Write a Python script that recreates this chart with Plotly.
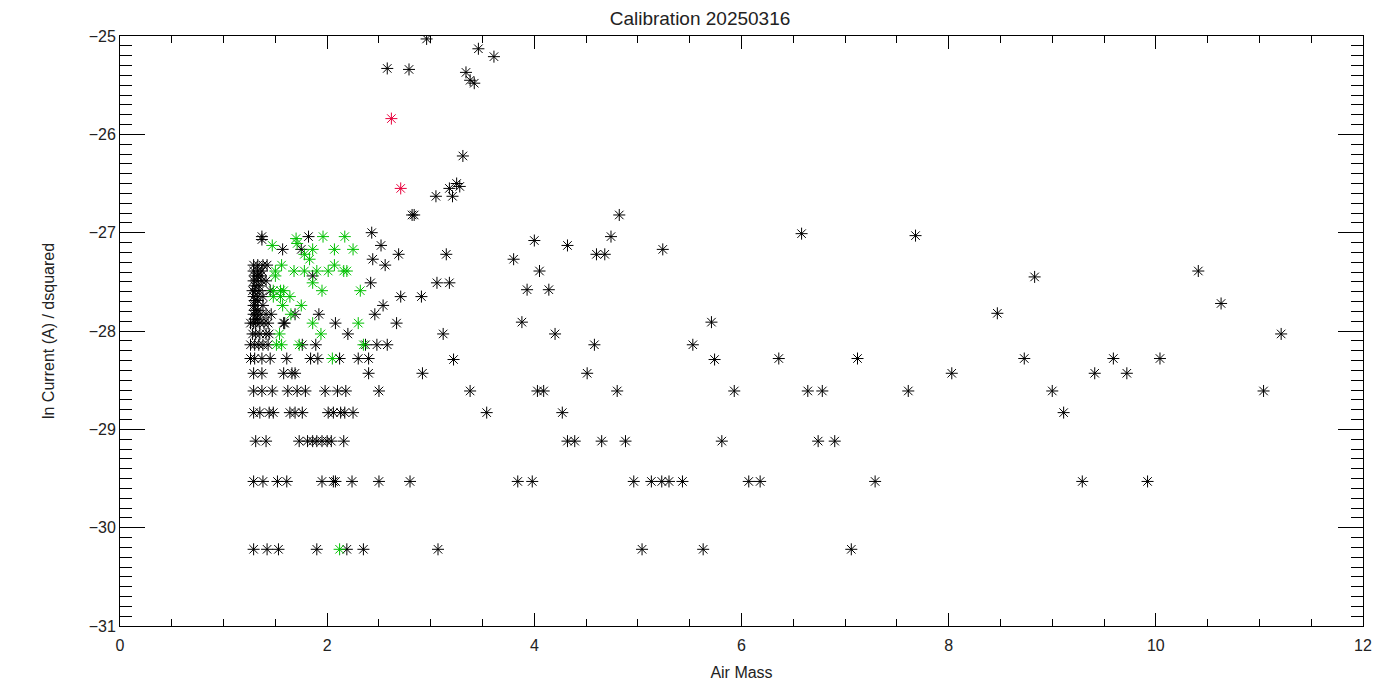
import plotly.graph_objects as go

# ---- data ----
# dense column / cluster of black points at low air mass
black_x = [
    1.29, 1.33, 1.38, 1.42,
    1.29, 1.33, 1.37,
    1.30, 1.33, 1.36,
    1.29, 1.32, 1.37, 1.41,
    1.30, 1.34,
    1.28, 1.31, 1.35, 1.45,
    1.29, 1.33, 1.38,
    1.30, 1.33,
    1.29, 1.31, 1.38,
    1.30, 1.33,
    1.29, 1.32, 1.36, 1.41,
    1.30, 1.33,
    1.26, 1.29, 1.31, 1.35, 1.39, 1.43, 1.59,
    1.28, 1.31, 1.35, 1.41, 1.44,
    1.26, 1.30, 1.34, 1.38, 1.43, 1.76, 1.89, 2.37, 2.48, 2.58,
    1.26, 1.30, 1.37, 1.45, 1.61, 1.84, 1.91, 2.12, 2.30, 2.40,
    1.29, 1.37, 1.58, 1.66, 1.69, 2.40, 2.92,
    1.29, 1.37, 1.47, 1.62, 1.71, 1.79, 1.98, 2.10, 2.18, 2.50,
    1.29, 1.35, 1.44, 1.48, 1.64, 1.69, 1.76, 2.01, 2.06, 2.13, 2.17, 2.25,
    1.31, 1.41, 1.73, 1.81, 1.86, 1.90, 1.95, 2.00, 2.04, 2.16,
    1.29, 1.38, 1.52, 1.61, 1.95, 2.06, 2.08, 2.24, 2.50, 2.80,
    1.29, 1.42, 1.53, 1.90, 2.19, 2.35, 3.07,
    # upper part of the cluster
    1.37, 1.37, 1.82, 2.43, 1.57, 1.75, 2.52, 2.69, 2.44, 2.56, 1.86, 2.42,
    2.71, 2.91, 2.54, 2.46, 2.67, 1.92, 1.69, 1.46, 1.58, 2.08, 2.20,
    # high points
    2.96, 3.46, 3.61, 2.58, 2.79, 3.34, 3.38, 3.42, 3.31,
    3.25, 3.28, 3.18, 3.21, 3.05, 2.82, 2.84,
    # mid / right part
    4.82, 4.74, 4.00, 4.32, 5.24, 3.15, 4.60, 4.68, 3.80, 4.05, 3.06, 3.18,
    3.93, 4.14, 3.88, 3.12, 4.20, 5.71, 4.58, 5.53, 3.22, 5.74, 4.51,
    3.38, 4.03, 4.09, 4.80, 3.54, 4.27, 4.32, 4.39, 4.65, 4.88,
    3.84, 3.98, 4.96, 5.13, 5.23, 5.30, 5.43, 5.04, 5.63,
    5.81, 5.93, 6.36, 6.58, 6.64, 6.78, 6.74, 6.90, 6.07, 6.18, 7.06, 7.12,
    7.29, 7.61, 7.68, 8.03, 8.47, 8.73, 8.83, 9.00, 9.11, 9.29, 9.41, 9.59,
    9.72, 9.92, 10.04, 10.41, 10.63, 11.04, 11.21,
]
black_y = [
    -27.33, -27.33, -27.33, -27.33,
    -27.39, -27.39, -27.39,
    -27.44, -27.44, -27.44,
    -27.49, -27.49, -27.49, -27.49,
    -27.54, -27.54,
    -27.59, -27.59, -27.59, -27.59,
    -27.65, -27.65, -27.65,
    -27.69, -27.69,
    -27.74, -27.74, -27.74,
    -27.79, -27.79,
    -27.83, -27.83, -27.83, -27.83,
    -27.88, -27.88,
    -27.92, -27.92, -27.92, -27.92, -27.92, -27.92, -27.92,
    -28.03, -28.03, -28.03, -28.03, -28.03,
    -28.14, -28.14, -28.14, -28.14, -28.14, -28.14, -28.14, -28.14, -28.14, -28.14,
    -28.28, -28.28, -28.28, -28.28, -28.28, -28.28, -28.28, -28.28, -28.28, -28.28,
    -28.43, -28.43, -28.43, -28.43, -28.43, -28.43, -28.43,
    -28.61, -28.61, -28.61, -28.61, -28.61, -28.61, -28.61, -28.61, -28.61, -28.61,
    -28.83, -28.83, -28.83, -28.83, -28.83, -28.83, -28.83, -28.83, -28.83, -28.83, -28.83, -28.83,
    -29.12, -29.12, -29.12, -29.12, -29.12, -29.12, -29.12, -29.12, -29.12, -29.12,
    -29.53, -29.53, -29.53, -29.53, -29.53, -29.53, -29.53, -29.53, -29.53, -29.53,
    -30.22, -30.22, -30.22, -30.22, -30.22, -30.22, -30.22,
    -27.04, -27.07, -27.04, -27.00, -27.17, -27.17, -27.13, -27.22, -27.27, -27.33, -27.44, -27.51,
    -27.65, -27.65, -27.74, -27.83, -27.92, -27.83, -27.83, -27.83, -27.92, -27.92, -28.03,
    -25.03, -25.13, -25.21, -25.33, -25.34, -25.37, -25.45, -25.48, -26.22,
    -26.50, -26.53, -26.55, -26.63, -26.63, -26.82, -26.82,
    -26.82, -27.04, -27.08, -27.13, -27.17, -27.22, -27.22, -27.22, -27.27, -27.39, -27.51, -27.51,
    -27.58, -27.58, -27.91, -28.03, -28.03, -27.91, -28.14, -28.14, -28.29, -28.29, -28.43,
    -28.61, -28.61, -28.61, -28.61, -28.83, -28.83, -29.12, -29.12, -29.12, -29.12,
    -29.53, -29.53, -29.53, -29.53, -29.53, -29.53, -29.53, -30.22, -30.22,
    -29.12, -28.61, -28.28, -27.01, -28.61, -28.61, -29.12, -29.12, -29.53, -29.53, -30.22, -28.28,
    -29.53, -28.61, -27.03, -28.43, -27.82, -28.28, -27.45, -28.61, -28.83, -29.53, -28.43, -28.28,
    -28.43, -29.53, -28.28, -27.39, -27.72, -28.61, -28.03,
]

green_x = [
    1.70, 1.71, 1.96, 2.17, 1.47, 1.86, 2.07, 2.25, 1.78, 1.83, 1.56, 2.07,
    1.50, 1.68, 1.78, 1.90, 2.01, 2.16, 2.19, 1.50, 1.86, 1.95, 2.32, 1.48,
    1.55, 1.58, 1.64, 1.48, 1.55, 1.57, 1.75, 1.65, 1.86, 2.30, 1.54, 1.94,
    1.51, 1.56, 1.73, 2.35, 2.05, 2.12,
]
green_y = [
    -27.06, -27.11, -27.04, -27.04, -27.13, -27.17, -27.17, -27.17, -27.22, -27.27, -27.33, -27.33,
    -27.39, -27.39, -27.39, -27.39, -27.39, -27.39, -27.39, -27.44, -27.51, -27.59, -27.59, -27.59,
    -27.59, -27.59, -27.65, -27.65, -27.65, -27.74, -27.74, -27.83, -27.92, -27.92, -28.03, -28.03,
    -28.14, -28.14, -28.14, -28.14, -28.28, -30.22,
]

red_x = [2.62, 2.71]
red_y = [-25.84, -26.55]

FONT = "Liberation Sans"


def series(x, y, color):
    return go.Scatter(
        x=x, y=y, mode="markers", showlegend=False, hoverinfo="x+y",
        marker=dict(symbol="asterisk-open", size=10, color=color,
                    line=dict(width=1, color=color)),
    )


fig = go.Figure()
fig.add_trace(series(black_x, black_y, "black"))
fig.add_trace(series(green_x, green_y, "#00c000"))
fig.add_trace(series(red_x, red_y, "#e8003c"))

# page body adds an 8px margin, so the figure is 1384x684 and offset by 8px
fig.update_layout(
    width=1384, height=684,
    paper_bgcolor="white", plot_bgcolor="white",
    margin=dict(l=112, r=29, t=28, b=66, autoexpand=False),
    font=dict(family=FONT, size=16, color="#222222"),
    title=dict(text="Calibration 20250316", x=0.5, xanchor="center",
               y=1 - 10 / 684, yanchor="middle", font=dict(size=19, family=FONT)),
)
fig.update_xaxes(
    range=[0, 12], dtick=2, tick0=0, automargin=False,
    showline=True, linecolor="black", linewidth=1, mirror="ticks",
    ticks="inside", ticklen=13, tickcolor="black", tickwidth=1,
    minor=dict(dtick=0.5, ticks="inside", ticklen=7, tickcolor="black", tickwidth=1),
    showgrid=False, zeroline=False, ticklabelstandoff=5,
    title=dict(text="Air Mass", standoff=13, font=dict(size=16)),
    tickfont=dict(size=16),
)
fig.update_yaxes(
    range=[-31, -25], dtick=1, tick0=-31, automargin=False,
    showline=True, linecolor="black", linewidth=1, mirror="ticks",
    ticks="inside", ticklen=25, tickcolor="black", tickwidth=1,
    minor=dict(dtick=0.1, ticks="inside", ticklen=12, tickcolor="black", tickwidth=1),
    showgrid=False, zeroline=False,
    title=dict(text="ln Current (A) / dsquared", standoff=30, font=dict(size=16)),
    tickfont=dict(size=16),
)

fig.write_html("out.html")
